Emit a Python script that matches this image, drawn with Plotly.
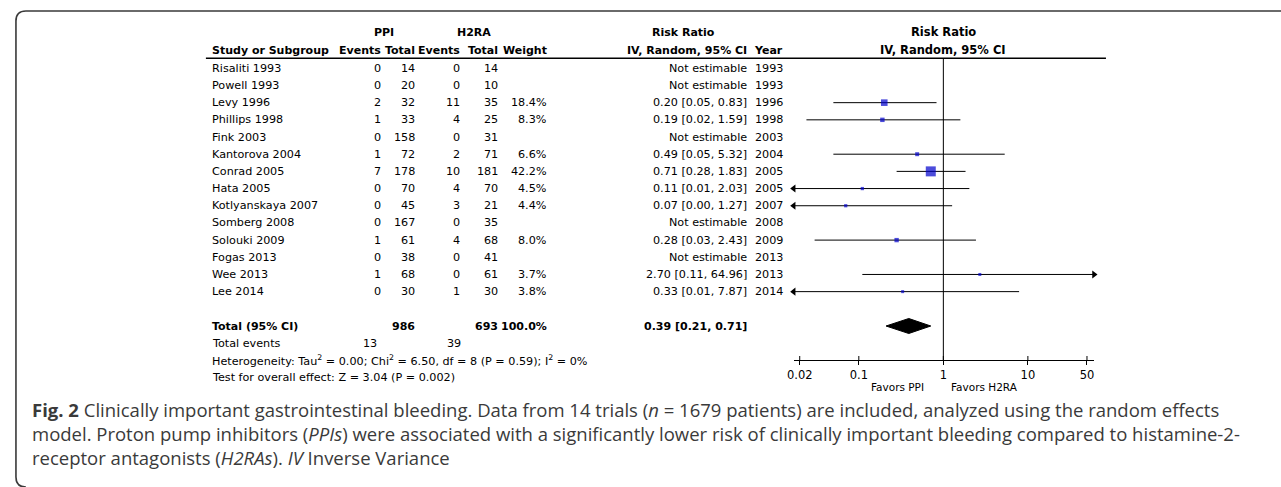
import plotly.graph_objects as go

# ---------------- data ----------------
studies = ["Risaliti 1993", "Powell 1993", "Levy 1996", "Phillips 1998", "Fink 2003",
           "Kantorova 2004", "Conrad 2005", "Hata 2005", "Kotlyanskaya 2007",
           "Somberg 2008", "Solouki 2009", "Fogas 2013", "Wee 2013", "Lee 2014"]
ppi_events = [0, 0, 2, 1, 0, 1, 7, 0, 0, 0, 1, 0, 1, 0]
ppi_total = [14, 20, 32, 33, 158, 72, 178, 70, 45, 167, 61, 38, 68, 30]
h2ra_events = [0, 0, 11, 4, 0, 2, 10, 4, 3, 0, 4, 0, 0, 1]
h2ra_total = [14, 10, 35, 25, 31, 71, 181, 70, 21, 35, 68, 41, 61, 30]
weight = [None, None, 18.4, 8.3, None, 6.6, 42.2, 4.5, 4.4, None, 8.0, None, 3.7, 3.8]
rr = [None, None, 0.20, 0.19, None, 0.49, 0.71, 0.11, 0.07, None, 0.28, None, 2.70, 0.33]
rr_lo = [None, None, 0.05, 0.024, None, 0.05, 0.28, 0.01, 0.004, None, 0.03, None, 0.11, 0.01]
rr_hi = [None, None, 0.83, 1.59, None, 5.32, 1.83, 2.03, 1.27, None, 2.43, None, 64.96, 7.87]
years = [1993, 1993, 1996, 1998, 2003, 2004, 2005, 2005, 2007, 2008, 2009, 2013, 2013, 2014]

total_ppi = 986
total_h2ra = 693
total_weight = 100.0
pooled_rr, pooled_lo, pooled_hi = 0.39, 0.21, 0.71
events_ppi_sum, events_h2ra_sum = 13, 39
heterogeneity = "Heterogeneity: Tau<sup>2</sup> = 0.00; Chi<sup>2</sup> = 6.50, df = 8 (P = 0.59); I<sup>2</sup> = 0%"
overall = "Test for overall effect: Z = 3.04 (P = 0.002)"

tick_vals = [0.02, 0.1, 1, 10, 50]
tick_text = ["0.02", "0.1", "1", "10", "50"]

caption_lines = [
    "<b>Fig. 2</b> Clinically important gastrointestinal bleeding. Data from 14 trials (<i>n</i> = 1679 patients) are included, analyzed using the random effects",
    "model. Proton pump inhibitors (<i>PPIs</i>) were associated with a significantly lower risk of clinically important bleeding compared to histamine-2-",
    "receptor antagonists (<i>H2RAs</i>). <i>IV</i> Inverse Variance",
]

# ---------------- layout constants ----------------
W, H = 1281, 487
FONT = "DejaVu Sans"
FS = 11.2
FSB = 11.0
X_ONE = 941.5      # pixel of RR = 1
DEC = 85.0         # pixels per decade
AX_L, AX_R = 791.0, 1093.0
AX_Y = 360.0
LG_MIN = (AX_L - X_ONE) / DEC
LG_MAX = (AX_R - X_ONE) / DEC
VMIN, VMAX = 10 ** LG_MIN, 10 ** LG_MAX

ROW0, ROWSTEP = 68.3, 17.18
row_y = [ROW0 + ROWSTEP * i for i in range(len(studies))]
HDR1, HDR2, HLINE = 32.0, 50.0, 58.3
Y_TOTAL, Y_EVT, Y_HET, Y_TEST = 326.0, 343.3, 360.5, 377.7

STUDY_X = 204
COL = dict(ppi_ev=378, ppi_tot=412, h2_ev=457, h2_tot=496, weight=545, ci=746, year=782)

fig = go.Figure()

# ---------------- forest plot traces (log axis x2) ----------------
fig.add_trace(go.Scatter(x=[1, 1], y=[HLINE, AX_Y], xaxis="x2", yaxis="y", mode="lines",
                         line=dict(color="black", width=1), hoverinfo="skip", showlegend=False))

ci_x, ci_y = [], []
left_arrow_y, right_arrow_y = [], []
sq_x, sq_y, sq_s = [], [], []
wmax = max(w for w in weight if w)
for i in range(len(studies)):
    if rr[i] is None:
        continue
    lo = max(rr_lo[i], VMIN)
    hi = min(rr_hi[i], VMAX)
    ci_x += [lo, hi, None]
    ci_y += [row_y[i], row_y[i], None]
    if rr_lo[i] < VMIN:
        left_arrow_y.append(row_y[i])
    if rr_hi[i] > VMAX:
        right_arrow_y.append(row_y[i])
    sq_x.append(rr[i])
    sq_y.append(row_y[i])
    sq_s.append(max(3.0, 10.0 * (weight[i] / wmax) ** 0.5))

fig.add_trace(go.Scatter(x=ci_x, y=ci_y, xaxis="x2", yaxis="y", mode="lines",
                         line=dict(color="black", width=1), hoverinfo="skip", showlegend=False))
fig.add_trace(go.Scatter(x=[VMIN] * len(left_arrow_y), y=left_arrow_y, xaxis="x2", yaxis="y",
                         mode="markers", marker=dict(symbol="triangle-left", size=7, color="black"),
                         cliponaxis=False, hoverinfo="skip", showlegend=False))
fig.add_trace(go.Scatter(x=[VMAX] * len(right_arrow_y), y=right_arrow_y, xaxis="x2", yaxis="y",
                         mode="markers", marker=dict(symbol="triangle-right", size=7, color="black"),
                         cliponaxis=False, hoverinfo="skip", showlegend=False))
fig.add_trace(go.Scatter(x=sq_x, y=sq_y, xaxis="x2", yaxis="y", mode="markers",
                         marker=dict(symbol="square", size=sq_s, color="#0000cc", line=dict(width=0)),
                         cliponaxis=False, hoverinfo="skip", showlegend=False))

# pooled diamond
DH = 7.5
fig.add_trace(go.Scatter(x=[pooled_lo, pooled_rr, pooled_hi, pooled_rr, pooled_lo],
                         y=[Y_TOTAL, Y_TOTAL - DH, Y_TOTAL, Y_TOTAL + DH, Y_TOTAL],
                         xaxis="x2", yaxis="y", mode="lines", fill="toself", fillcolor="black",
                         line=dict(color="black", width=1), hoverinfo="skip", showlegend=False))

# upward halves of the tick marks (crossing the axis)
tx, ty = [], []
for t in tick_vals:
    tx += [t, t, None]
    ty += [AX_Y - 4, AX_Y, None]
fig.add_trace(go.Scatter(x=tx, y=ty, xaxis="x2", yaxis="y", mode="lines",
                         line=dict(color="black", width=1), cliponaxis=False,
                         hoverinfo="skip", showlegend=False))

# ---------------- text table ----------------
ann = []


def txt(x, y, s, anchor="left", bold=False, size=None, color="black", family=FONT):
    if size is None:
        size = FSB if bold else FS
    if bold:
        s = "<b>" + s + "</b>"
    ann.append(dict(x=x, y=y, xref="x", yref="y", text=s, showarrow=False, xanchor=anchor,
                    yanchor="middle", align="left", font=dict(family=family, size=size, color=color)))


# headers
txt(379, HDR1, "PPI", "center", True)
txt(470, HDR1, "H2RA", "center", True)
txt(680, HDR1, "Risk Ratio", "center", True)
txt(X_ONE, HDR1, "Risk Ratio", "center", True, 11.5)
txt(STUDY_X, HDR2, "Study or Subgroup", "left", True)
txt(COL["ppi_ev"], HDR2, "Events", "right", True)
txt(COL["ppi_tot"], HDR2, "Total", "right", True)
txt(COL["h2_ev"], HDR2, "Events", "right", True)
txt(COL["h2_tot"], HDR2, "Total", "right", True)
txt(COL["weight"], HDR2, "Weight", "right", True)
txt(COL["ci"], HDR2, "IV, Random, 95% CI", "right", True)
txt(COL["year"], HDR2, "Year", "right", True)
txt(X_ONE, HDR2, "IV, Random, 95% CI", "center", True, 11.5)

for i, name in enumerate(studies):
    y = row_y[i]
    txt(STUDY_X, y, name)
    txt(COL["ppi_ev"], y, str(ppi_events[i]), "right")
    txt(COL["ppi_tot"], y, str(ppi_total[i]), "right")
    txt(COL["h2_ev"], y, str(h2ra_events[i]), "right")
    txt(COL["h2_tot"], y, str(h2ra_total[i]), "right")
    if weight[i] is not None:
        txt(COL["weight"], y, f"{weight[i]:.1f}%", "right")
        txt(COL["ci"], y, f"{rr[i]:.2f} [{rr_lo[i]:.2f}, {rr_hi[i]:.2f}]", "right")
    else:
        txt(COL["ci"], y, "Not estimable", "right")
    txt(COL["year"], y, str(years[i]), "right")

txt(STUDY_X, Y_TOTAL, "Total (95% CI)", "left", True)
txt(COL["ppi_tot"], Y_TOTAL, str(total_ppi), "right", True)
txt(COL["h2_tot"], Y_TOTAL, str(total_h2ra), "right", True)
txt(COL["weight"], Y_TOTAL, f"{total_weight:.1f}%", "right", True)
txt(COL["ci"], Y_TOTAL, f"{pooled_rr:.2f} [{pooled_lo:.2f}, {pooled_hi:.2f}]", "right", True)
txt(STUDY_X, Y_EVT, "Total events")
txt(COL["ppi_ev"] - 4, Y_EVT, str(events_ppi_sum), "right")
txt(COL["h2_ev"] + 2, Y_EVT, str(events_h2ra_sum), "right")
txt(STUDY_X, Y_HET, heterogeneity)
txt(STUDY_X, Y_TEST, overall)

txt(X_ONE - 17, 387, "Favors PPI", "right", False, 10.5)
txt(X_ONE + 6, 387, "Favors H2RA", "left", False, 10.5)

# caption as one block with line breaks
txt(23, 433, "<br>".join(caption_lines), "left", False, 18.5, "#3a3a3a", "Open Sans")

# ---------------- shapes ----------------
shapes = [
    dict(type="path", xref="x", yref="y",
         path="M 1281 11 L 19 11 Q 9 11 9 21 L 9 477 Q 9 487 19 487",
         line=dict(color="#3a3a3a", width=1.6)),
    dict(type="line", xref="x", yref="y", x0=200, x1=1105, y0=HLINE, y1=HLINE,
         line=dict(color="black", width=1.5)),
]

fig.update_layout(
    width=W, height=H, autosize=False,
    margin=dict(l=0, r=0, t=0, b=0, pad=0),
    paper_bgcolor="white", plot_bgcolor="rgba(0,0,0,0)",
    showlegend=False,
    xaxis=dict(range=[0, W], domain=[0, 1], visible=False, fixedrange=True),
    yaxis=dict(range=[H, 0], domain=[0, 1], visible=False, fixedrange=True),
    xaxis2=dict(type="log", range=[LG_MIN, LG_MAX], domain=[AX_L / W, AX_R / W],
                anchor="free", position=1 - AX_Y / H, showline=True, linecolor="black",
                linewidth=1, showgrid=False, zeroline=False, ticks="outside", ticklen=4,
                tickcolor="black", tickvals=tick_vals, ticktext=tick_text,
                tickfont=dict(family=FONT, size=11.5, color="black"), fixedrange=True),
    annotations=ann,
    shapes=shapes,
)

fig.write_html("out.html", config={"displayModeBar": False, "staticPlot": True},
               post_script="document.body.style.margin='0';")
